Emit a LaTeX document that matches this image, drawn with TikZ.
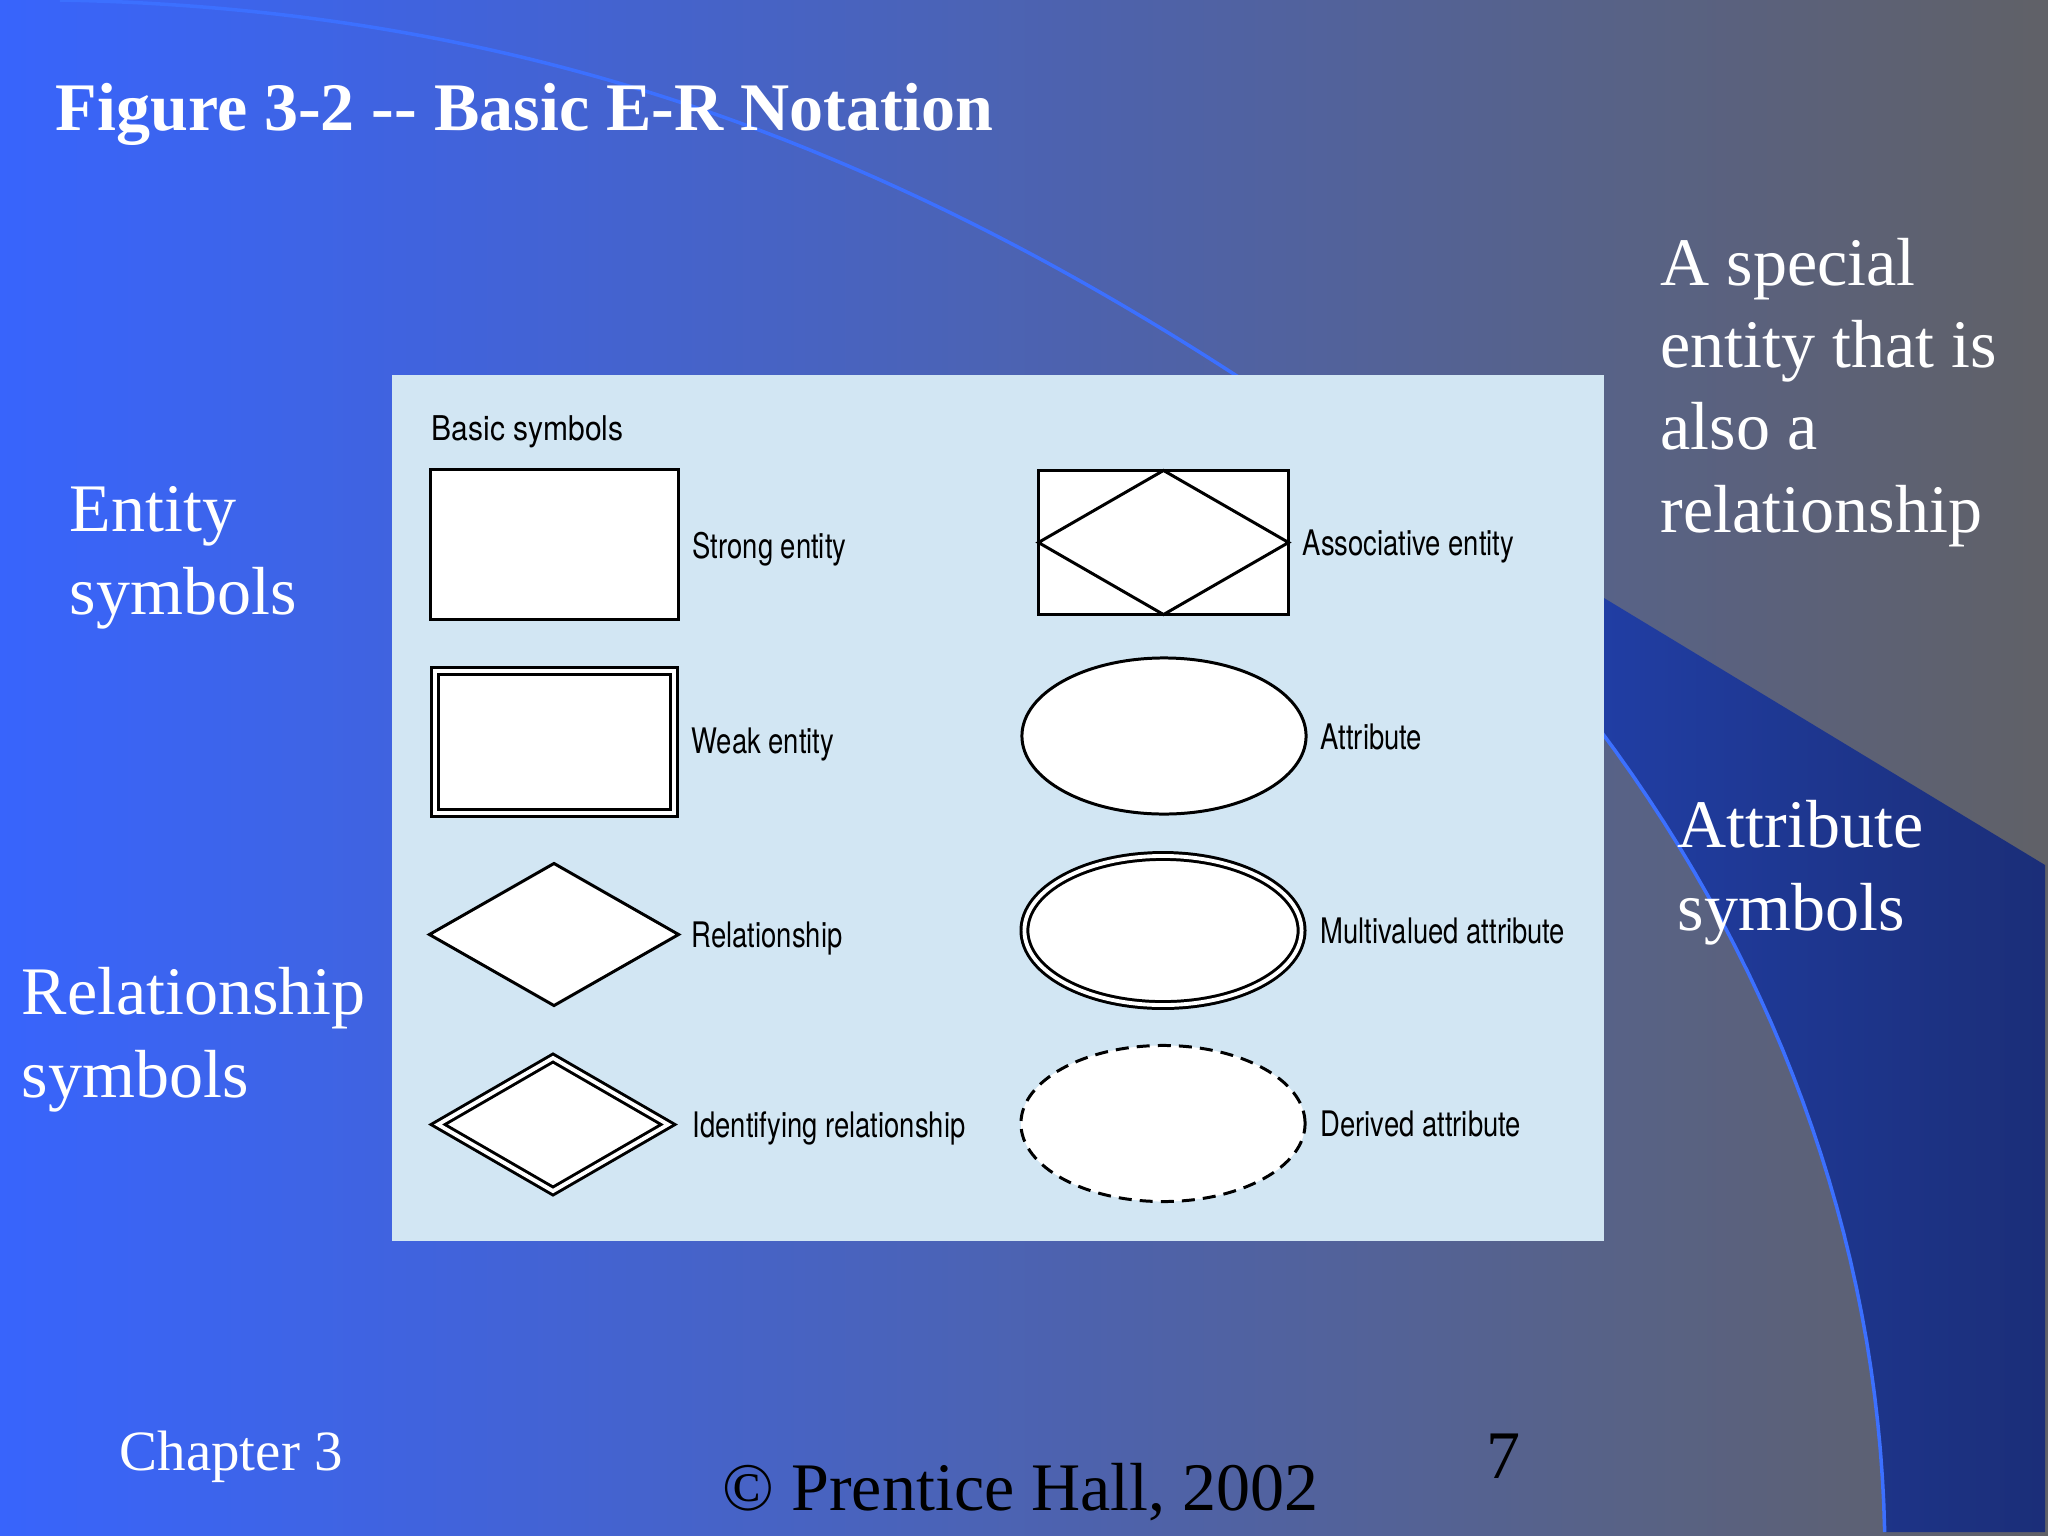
\documentclass[tikz,border=0pt]{standalone}
\usepackage{fontspec}
\usetikzlibrary{shapes.geometric,calc}
\newfontfamily\slideserif{Liberation Serif}
\newfontfamily\figsans[FakeStretch=0.78]{TeX Gyre Heros}
\newfontfamily\figsanswide[FakeStretch=0.88]{TeX Gyre Heros}
\definecolor{bgL}{RGB}{56,100,252}
\definecolor{bgR}{RGB}{96,97,103}
\definecolor{bandL}{RGB}{37,75,200}
\definecolor{bandR}{RGB}{27,46,120}
\definecolor{arcblue}{RGB}{60,112,255}
\definecolor{panelblue}{RGB}{210,230,243}
\tikzset{
  shp/.style={draw=black, fill=white, line width=0.85pt, inner sep=0pt, outer sep=0pt},
  entbox/.style={shp, rectangle, minimum width=2.48cm, minimum height=1.50cm},
  dbl/.style={double=white, double distance=1.1pt},
  relbox/.style={shp, diamond, minimum width=2.49cm, minimum height=1.42cm},
  attrshape/.style={shp, ellipse, minimum width=2.84cm, minimum height=1.56cm},
  lbl/.style={font=\figsans\fontsize{10pt}{12pt}\selectfont, text=black, inner sep=0pt, anchor=base west},
  slidetxt/.style={font=\slideserif\fontsize{19.35pt}{23.4pt}\selectfont, text=white, inner sep=0pt, anchor=base west, align=left}
}
\begin{document}
\begin{tikzpicture}[x=0.01cm, y=-0.01cm]
\useasboundingbox (0,0) rectangle (2048,1536);
% background
\shade[left color=bgL, right color=bgR] (0,0) rectangle (2048,1536);
% blue band
\shade[left color=bandL, right color=bandR] (1234,374) -- (2045,865) -- (2045,1532)
  -- plot[domain=1.02:49.1, samples=80] ({1885*cos(\x)},{1560-1570*sin(\x)}) -- cycle;
% thin arc line (lower right part and upper left part)
\draw[arcblue, line width=1pt] plot[domain=1.02:34, samples=100] ({1885*cos(\x)},{1560-1570*sin(\x)});
\draw[arcblue, line width=1pt] (60,0) .. controls (470,8) and (834,114) .. (1240,378);
% panel
\fill[panelblue] (392,375) rectangle (1604,1241);

% symbols
\node[entbox] (strong) at (554.5,544.5) {};
\node[entbox, dbl, minimum width=2.39cm, minimum height=1.42cm] (weak) at (554.5,742) {};
\node[relbox] (relat) at (554,934.5) {};
\node[relbox, dbl, minimum width=2.30cm, minimum height=1.33cm] (ident) at (553,1124.5) {};
\node[entbox, minimum width=2.50cm, minimum height=1.44cm] (assoc) at (1163.5,542.5) {};
\draw[line width=0.85pt] (assoc.north) -- (assoc.east) -- (assoc.south) -- (assoc.west) -- cycle;
\node[attrshape] (attrib) at (1164,736) {};
\node[attrshape, dbl, minimum width=2.77cm, minimum height=1.49cm] (multi) at (1163,930.5) {};
\node[attrshape, dash pattern=on 3.7pt off 2.3pt] (derived) at (1163,1123.5) {};

% labels
\node[lbl, font=\figsanswide\fontsize{9.7pt}{12pt}\selectfont] (basic) at (431,440) {Basic symbols};
\node[lbl] (lstrong) at (692,558) {Strong entity};
\node[lbl] (lweak) at (691,753) {Weak entity};
\node[lbl] (lrel) at (691,947) {Relationship};
\node[lbl] (lident) at (692,1137) {Identifying relationship};
\node[lbl] (lassoc) at (1302,555) {Associative entity};
\node[lbl] (lattr) at (1320,749) {Attribute};
\node[lbl] (lmulti) at (1320,943) {Multivalued attribute};
\node[lbl] (lderived) at (1320,1136) {Derived attribute};

% slide texts (base anchor = baseline of last line)
\node[slidetxt, font=\slideserif\bfseries\fontsize{19.35pt}{23.4pt}\selectfont] (title) at (55,130) {Figure 3-2 -\kern0pt- Basic E-R Notation};
\node[slidetxt] (entsym) at (69,614) {Entity\\symbols};
\node[slidetxt] (relsym) at (21,1097) {Relationship\\symbols};
\node[slidetxt] (special) at (1660,532) {A special\\entity that is\\also a\\relationship};
\node[slidetxt] (attrsym) at (1677,930) {Attribute\\symbols};
\node[slidetxt, font=\slideserif\fontsize{16.2pt}{19pt}\selectfont] (chapter) at (119,1470) {Chapter 3};
\node[slidetxt, text=black] (copy) at (722,1510) {© Prentice Hall, 2002};
\node[slidetxt, text=black] (pagenum) at (1486,1478) {7};
\end{tikzpicture}
\end{document}
